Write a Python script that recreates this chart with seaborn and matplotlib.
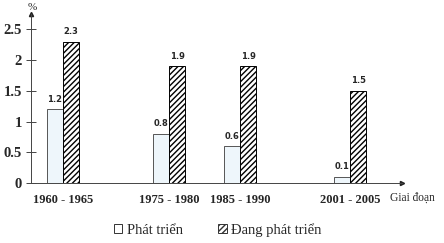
import matplotlib
matplotlib.use("Agg")
import matplotlib.pyplot as plt
from matplotlib.patches import Patch
import seaborn as sns
import pandas as pd

periods = ["1960 - 1965", "1975 - 1980", "1985 - 1990", "2001 - 2005"]
developed = [1.2, 0.8, 0.6, 0.1]
developing = [2.3, 1.9, 1.9, 1.5]
series_names = ["Phát triển", "Đang phát triển"]
yticks = [0, 0.5, 1, 1.5, 2, 2.5]
ytick_labels = ["0", "0.5", "1", "1.5", "2", "2.5"]

# period midpoints (years) derived from the labels
mids = [(int(p.split("-")[0]) + int(p.split("-")[1])) / 2 for p in periods]

df = pd.DataFrame({
    "mid": mids * 2,
    "value": developed + developing,
    "series": [series_names[0]] * 4 + [series_names[1]] * 4,
})

sns.set_style("white")
plt.rcParams["hatch.linewidth"] = 1.0

fig = plt.figure(figsize=(4.44, 2.43), dpi=100)
ax = fig.add_axes([0.070, 0.247, 0.835, 0.695])

sns.barplot(data=df, x="mid", y="value", hue="series", hue_order=series_names,
            native_scale=True, width=0.45, ax=ax, legend=False, errorbar=None)

c0, c1 = ax.containers[0], ax.containers[1]
for p in c0:
    p.set_facecolor("#eef6fb")
    p.set_edgecolor("#555555")
    p.set_linewidth(0.7)
for p in c1:
    p.set_facecolor("white")
    p.set_edgecolor("black")
    p.set_hatch("//////")
    p.set_linewidth(0.7)

for c in (c0, c1):
    ax.bar_label(c, fmt="%.1f", padding=4, fontsize=6, fontweight="bold",
                 family="DejaVu Sans")

ax.set_xlim(1958.0, 2010.3)
ax.set_ylim(0, 2.75)
ax.set_yticks(yticks)
ax.set_yticklabels(ytick_labels, family="Liberation Serif", fontweight="bold", fontsize=10.5)
ax.set_xticks(mids)
ax.set_xticklabels(periods, family="Liberation Serif", fontweight="bold", fontsize=9)
ax.tick_params(axis="x", length=0, pad=8)
ax.tick_params(axis="y", direction="inout", length=7, width=0.7, color="#444444", pad=3, left=True)
ax.set_xlabel("")
ax.set_ylabel("")

for s in ("top", "right"):
    ax.spines[s].set_visible(False)
for s in ("left", "bottom"):
    ax.spines[s].set_color("#444444")
    ax.spines[s].set_linewidth(0.7)

ax.plot([0], [1], marker="^", ms=3, color="#222222", transform=ax.transAxes, clip_on=False)
ax.plot([1], [0], marker=">", ms=3, color="#222222", transform=ax.transAxes, clip_on=False)

fig.text(32 / 444, 1 - 8 / 243, "%", ha="center", va="center",
         family="Liberation Serif", fontsize=8)
fig.text(390 / 444, 1 - 198 / 243, "Giai đoạn", ha="left", va="center",
         family="Liberation Serif", fontsize=8.3)

handles = [
    Patch(facecolor="white", edgecolor="#333333", linewidth=0.7, label=series_names[0]),
    Patch(facecolor="white", edgecolor="#333333", hatch="//////", linewidth=0.7, label=series_names[1]),
]
fig.legend(handles=handles, loc="center", bbox_to_anchor=(0.49, 1 - 230 / 243), ncol=2,
           frameon=False, handlelength=0.6, handleheight=0.6, handletextpad=0.3,
           columnspacing=2.4, prop={"family": "Liberation Serif", "size": 10.5})

fig.savefig("out.png", dpi=100)
